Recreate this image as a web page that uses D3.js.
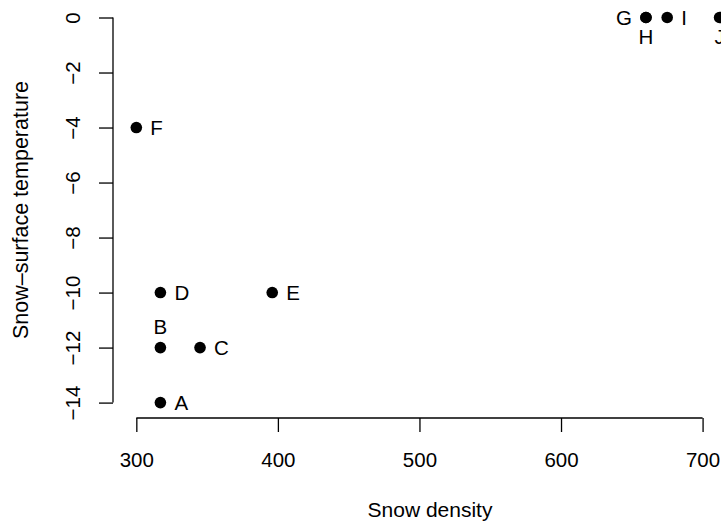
<!DOCTYPE html>
<html>
<head>
<meta charset="utf-8">
<script src="https://cdn.jsdelivr.net/npm/d3@7"></script>
<style>
  html, body { margin: 0; padding: 0; background: #fff; }
  svg { display: block; }
  text { font-family: "Liberation Sans", Arial, Helvetica, sans-serif; fill: #000; }
</style>
</head>
<body>
<svg id="chart" width="721" height="525"></svg>
<script>
// ---- data ----
const labels  = ["A", "B", "C", "D", "E", "F", "G", "H", "I", "J"];
const density = [317, 317, 345, 317, 396, 300, 660, 660, 675, 712];
const temp    = [-14, -12, -12, -10, -10, -4, 0, 0, 0, 0];
const labelPos = ["right", "above", "right", "right", "right", "right", "left", "below", "right", "below"];
const xTicks = [300, 400, 500, 600, 700];
const yTicks = [0, -2, -4, -6, -8, -10, -12, -14];
const xTitle = "Snow density";
const yTitle = "Snow\u2013surface temperature";

// ---- layout ----
const svg = d3.select("#chart");
const plot = { left: 113, right: 742.9, top: 2.1, bottom: 418 };
const fs = 20.5;

const xExt = d3.extent(density), yExt = d3.extent(temp);
const xPad = 0.04 * (xExt[1] - xExt[0]);
const yPad = 0.04 * (yExt[1] - yExt[0]);
const x = d3.scaleLinear().domain([xExt[0] - xPad, xExt[1] + xPad]).range([plot.left, plot.right]);
const y = d3.scaleLinear().domain([yExt[0] - yPad, yExt[1] + yPad]).range([plot.bottom, plot.top]);

const fmt = d => (d < 0 ? "\u2212" + Math.abs(d) : String(d));

// x axis
const gx = svg.append("g").attr("transform", `translate(0,${plot.bottom})`)
  .call(d3.axisBottom(x).tickValues(xTicks).tickSize(14).tickSizeOuter(0).tickFormat(fmt));
gx.select(".domain").remove();
gx.selectAll(".tick line").attr("stroke", "#000").attr("stroke-width", 1.3);
gx.selectAll(".tick text").attr("y", 48.7).attr("dy", null)
  .style("font-size", fs + "px").attr("fill", "#000");
gx.append("line").attr("x1", x(xTicks[0])).attr("x2", x(xTicks[xTicks.length - 1]))
  .attr("y1", 0).attr("y2", 0).attr("stroke", "#000").attr("stroke-width", 1.3);

// y axis
const gy = svg.append("g").attr("transform", `translate(${plot.left},0)`)
  .call(d3.axisLeft(y).tickValues(yTicks).tickSize(14).tickSizeOuter(0).tickFormat(fmt));
gy.select(".domain").remove();
gy.selectAll(".tick line").attr("stroke", "#000").attr("stroke-width", 1.3);
gy.selectAll(".tick text").attr("x", 0).attr("y", -33).attr("dy", null)
  .attr("transform", "rotate(-90)").attr("text-anchor", "middle")
  .style("font-size", fs + "px").attr("fill", "#000");
gy.append("line").attr("x1", 0).attr("x2", 0)
  .attr("y1", y(yTicks[0])).attr("y2", y(yTicks[yTicks.length - 1]))
  .attr("stroke", "#000").attr("stroke-width", 1.3);

// titles
svg.append("text").attr("x", 430).attr("y", 517)
  .attr("text-anchor", "middle").style("font-size", "21px").text(xTitle);
svg.append("text").attr("transform", `translate(28,${(plot.top + plot.bottom) / 2}) rotate(-90)`)
  .attr("text-anchor", "middle").style("font-size", "21.5px").text(yTitle);

// points
const pts = labels.map((l, i) => ({ l, x: density[i], y: temp[i], p: labelPos[i] }));
svg.append("g").selectAll("circle").data(pts).join("circle")
  .attr("cx", d => x(d.x)).attr("cy", d => y(d.y)).attr("r", 5.8).attr("fill", "#000");

// labels
svg.append("g").selectAll("text").data(pts).join("text")
  .style("font-size", fs + "px")
  .attr("x", d => d.p === "right" ? x(d.x) + 14 : d.p === "left" ? x(d.x) - 14 : x(d.x))
  .attr("y", d => d.p === "above" ? y(d.y) - 14 : d.p === "below" ? y(d.y) + 26 : y(d.y) + 7)
  .attr("text-anchor", d => d.p === "right" ? "start" : d.p === "left" ? "end" : "middle")
  .text(d => d.l);
</script>
</body>
</html>
